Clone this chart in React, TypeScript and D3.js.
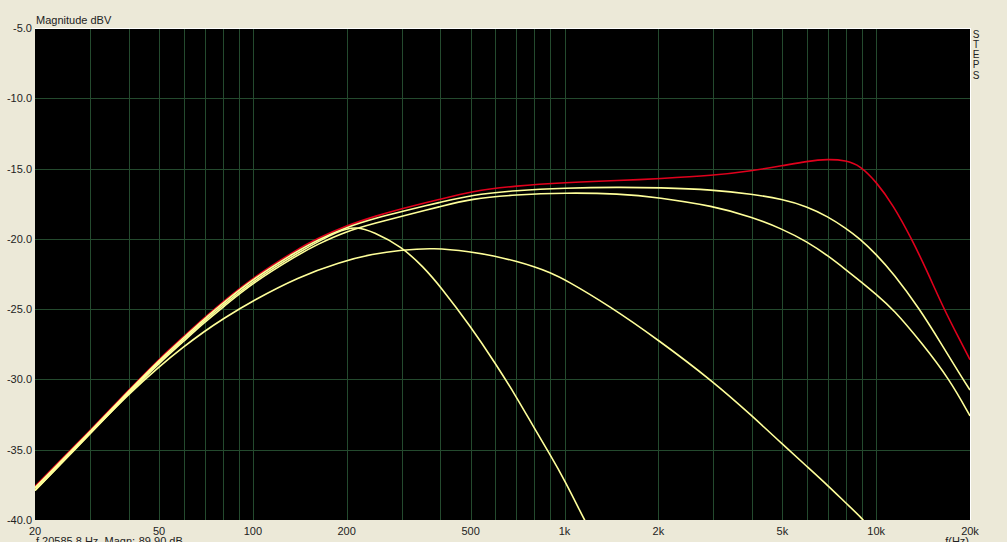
import React from "react";
import * as d3 from "d3";

const W = 1007;
const H = 542;

const yTicks = [-5, -10, -15, -20, -25, -30, -35, -40];
const xLabelTicks = [20, 50, 100, 200, 500, 1000, 2000, 5000, 10000, 20000];
const xLabelText = ["20", "50", "100", "200", "500", "1k", "2k", "5k", "10k", "20k"];
const xGridTicks = [
  30, 40, 50, 60, 70, 80, 90, 100, 200, 300, 400, 500, 600, 700, 800, 900,
  1000, 2000, 3000, 4000, 5000, 6000, 7000, 8000, 9000, 10000,
];

const redFreq = [20, 30, 40, 50, 60, 70, 80, 100, 140, 160, 200, 250, 300, 400, 500, 700, 1000, 1500, 2000, 3000, 4000, 5000, 6000, 7000, 8000, 8870, 10000, 11340, 13000, 14500, 16500, 18560, 20000];
const redDb = [-37.6, -33.65, -30.75, -28.55, -26.95, -25.6, -24.5, -22.75, -20.7, -20.0, -19.05, -18.35, -17.85, -17.18, -16.62, -16.22, -16.0, -15.85, -15.72, -15.5, -15.15, -14.8, -14.48, -14.32, -14.42, -14.78, -15.93, -17.6, -20.0, -22.2, -25.0, -27.2, -28.6];

const y1Freq = [20, 30, 40, 50, 60, 70, 80, 100, 140, 160, 200, 250, 300, 400, 500, 700, 1000, 1500, 2000, 3000, 4000, 5000, 6000, 7000, 8000, 8870, 10000, 11340, 13800, 16000, 19000, 20000];
const y1Db = [-37.7, -33.72, -30.82, -28.63, -27.03, -25.68, -24.6, -22.85, -20.82, -20.12, -19.15, -18.5, -18.05, -17.4, -16.88, -16.55, -16.38, -16.32, -16.36, -16.5, -16.82, -17.18, -17.7, -18.42, -19.25, -20.0, -21.1, -22.45, -25.0, -27.3, -30.0, -30.75];

const y2Freq = [20, 30, 40, 50, 60, 70, 80, 100, 140, 160, 200, 250, 300, 400, 500, 700, 1000, 1500, 2000, 3000, 4000, 5000, 6000, 7000, 8000, 9000, 10000, 11340, 14000, 17200, 20000];
const y2Db = [-37.9, -33.9, -30.98, -28.85, -27.28, -25.93, -24.88, -23.12, -21.12, -20.42, -19.45, -18.85, -18.4, -17.7, -17.15, -16.85, -16.72, -16.78, -17.05, -17.66, -18.45, -19.3, -20.2, -21.2, -22.2, -23.1, -23.95, -25.0, -27.4, -30.0, -32.6];

const y3Freq = [20, 30, 40, 50, 60, 70, 80, 100, 140, 190, 243, 300, 379, 500, 600, 700, 800, 900, 1000, 1400, 2000, 3000, 4000, 5000, 6000, 7000, 8000, 9000, 9300];
const y3Db = [-37.9, -33.84, -31.03, -29.09, -27.67, -26.57, -25.7, -24.39, -22.71, -21.65, -21.06, -20.79, -20.63, -20.91, -21.22, -21.6, -21.98, -22.4, -22.87, -24.8, -27.19, -30.15, -32.6, -34.6, -36.2, -37.55, -38.8, -39.87, -40.3];

const y4Freq = [20, 30, 40, 50, 60, 70, 80, 100, 140, 190, 215, 243, 300, 352, 400, 500, 600, 700, 800, 900, 1000, 1150, 1180];
const y4Db = [-37.75, -33.82, -30.9, -28.75, -27.15, -25.8, -24.74, -23.0, -20.95, -19.37, -19.13, -19.49, -20.55, -21.98, -23.4, -26.24, -28.85, -31.22, -33.47, -35.37, -37.15, -39.85, -40.3];

const stepsLetters = ["S", "T", "E", "P", "S"];
const stepsY = [34, 44, 54, 64, 75];

const left = 35;
const right = 970;
const top = 28;
const bottom = 520;

const FONT = "'Liberation Sans', Arial, 'DejaVu Sans', sans-serif";

export default function App() {
  const x = d3.scaleLog().domain([20, 20000]).range([left, right]);
  const y = d3.scaleLinear().domain([-5, -40]).range([top, bottom]);

  const mk = (fs: number[], ds: number[]) =>
    d3
      .line<number>()
      .x((_, i) => x(fs[i]))
      .y((d) => y(d))
      .curve(d3.curveBasis)(ds) || "";

  const series = [
    { f: redFreq, d: redDb, c: "#e0001c" },
    { f: y4Freq, d: y4Db, c: "#ffff9a" },
    { f: y3Freq, d: y3Db, c: "#ffff9a" },
    { f: y2Freq, d: y2Db, c: "#ffff9a" },
    { f: y1Freq, d: y1Db, c: "#ffff9a" },
  ];

  const grid = "#244a2e";

  return (
    <div style={{ position: "fixed", left: 0, top: 0, width: W, height: H, background: "#ece9d8" }}>
      <svg width={W} height={H} style={{ display: "block" }} fontFamily={FONT}>
        <rect x={0} y={0} width={W} height={H} fill="#ece9d8" />
        <defs>
          <clipPath id="plotclip">
            <rect x={left} y={top} width={right - left} height={bottom - top} />
          </clipPath>
        </defs>
        <rect x={left} y={top} width={right - left} height={bottom - top} fill="#000" />
        <g shapeRendering="crispEdges">
          {yTicks.slice(1, -1).map((t) => (
            <line key={"h" + t} x1={left} x2={right} y1={Math.round(y(t)) + 0.5} y2={Math.round(y(t)) + 0.5} stroke={grid} strokeWidth={1} />
          ))}
          {xGridTicks.map((t) => (
            <line key={"v" + t} x1={Math.round(x(t)) + 0.5} x2={Math.round(x(t)) + 0.5} y1={top} y2={bottom} stroke={grid} strokeWidth={1} />
          ))}
          <line x1={left} x2={right + 1} y1={top + 0.5} y2={top + 0.5} stroke="#ffffff" strokeWidth={1} />
          <line x1={right + 0.5} x2={right + 0.5} y1={top} y2={bottom} stroke="#ffffff" strokeWidth={1} />
        </g>
        <g clipPath="url(#plotclip)">
          {series.map((s, i) => (
            <path key={i} d={mk(s.f, s.d)} fill="none" stroke={s.c} strokeWidth={1.6} strokeLinejoin="round" />
          ))}
        </g>
        <g fontSize={11} fill="#222">
          {yTicks.map((t) => (
            <text key={"yl" + t} x={32} y={y(t) + 4} textAnchor="end">
              {t.toFixed(1)}
            </text>
          ))}
          {xLabelTicks.map((t, i) => (
            <text key={"xl" + t} x={x(t)} y={535} textAnchor="middle">
              {xLabelText[i]}
            </text>
          ))}
          <text x={36} y={24}>Magnitude dBV</text>
          <text x={969} y={545} textAnchor="end">f(Hz)</text>
          <text x={36} y={545}>f 20585.8 Hz, Magn:-89.90 dB</text>
          {stepsLetters.map((l, i) => (
            <text key={"s" + i} x={976} y={stepsY[i] + 4} textAnchor="middle" fontSize={10}>
              {l}
            </text>
          ))}
        </g>
      </svg>
    </div>
  );
}
